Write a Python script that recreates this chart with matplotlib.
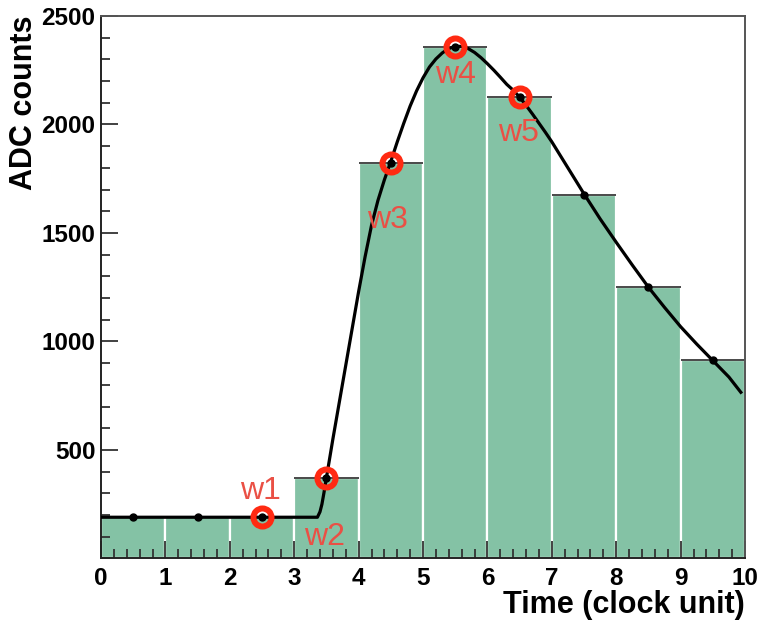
import numpy as np
import matplotlib
matplotlib.use("Agg")
import matplotlib.pyplot as plt
from matplotlib.ticker import MultipleLocator

plt.rcParams["font.family"] = ["Liberation Sans", "DejaVu Sans"]

# histogram bins (time in clock units) and ADC contents
bin_edges = [0, 1, 2, 3, 4, 5, 6, 7, 8, 9, 10]
adc_counts = [190, 190, 190, 372, 1824, 2358, 2126, 1677, 1249, 913]

# fitted pulse shape
fit_t = [0.0, 3.36, 3.40, 3.43, 3.46, 3.50, 3.60, 3.70, 3.80, 3.90, 4.00,
         4.10, 4.20, 4.30, 4.40, 4.50, 4.60, 4.70, 4.80, 4.90, 5.00,
         5.10, 5.20, 5.30, 5.40, 5.50, 5.60, 5.70, 5.80, 5.90, 6.00,
         6.10, 6.20, 6.30, 6.40, 6.50, 6.60, 6.70, 6.80, 6.90, 7.00,
         7.25, 7.50, 7.75, 8.00, 8.25, 8.50, 8.75, 9.00, 9.25, 9.50,
         9.75, 9.95]
fit_adc = [190, 190, 215, 250, 300, 372, 550, 720, 890, 1060, 1230,
           1390, 1535, 1650, 1745, 1830, 1920, 2005, 2085, 2155, 2215,
           2265, 2302, 2330, 2350, 2360, 2360, 2350, 2332, 2308, 2280,
           2250, 2218, 2185, 2158, 2126, 2088, 2048, 2006, 1964, 1920,
           1800, 1680, 1565, 1457, 1352, 1250, 1157, 1068, 988, 912,
           836, 760]

# sampled windows w1..w5 (bin index)
window_bins = [2, 3, 4, 5, 6]
window_names = ["w1", "w2", "w3", "w4", "w5"]
# label anchor offsets in data units
label_dx = [-0.02, -0.03, -0.05, 0.0, -0.02]
label_dy = [120, -273, -264, -130, -165]

GREEN = "#84c2a5"
RED = "#ff2a12"
LABEL_RED = "#ea5045"

fig = plt.figure(figsize=(7.59, 6.27), dpi=100)
ax = fig.add_axes([0.1331, 0.1093, 0.8485, 0.8652])

edges = np.array(bin_edges, dtype=float)
centers = 0.5 * (edges[:-1] + edges[1:])
widths = np.diff(edges)
ax.bar(edges[:-1], adc_counts, width=widths, align="edge", color=GREEN,
       edgecolor="white", linewidth=1.6, zorder=1)
ax.hlines(adc_counts, edges[:-1], edges[1:], color="#3a3a3a", linewidth=1.3, zorder=2)

ax.plot(fit_t, fit_adc, color="black", linewidth=2.3, zorder=3,
        solid_capstyle="butt")

win_x = [centers[i] for i in window_bins]
win_y = [adc_counts[i] for i in window_bins]
ax.plot(win_x, win_y, linestyle="none", marker="o", markersize=13,
        markerfacecolor="none", markeredgecolor=RED, markeredgewidth=4.3, zorder=4)
ax.plot(centers, adc_counts, linestyle="none", marker="o", markersize=5,
        color="black", zorder=5)

for name, x, y, dx, dy in zip(window_names, win_x, win_y, label_dx, label_dy):
    ax.text(x + dx, y + dy, name, color=LABEL_RED, fontsize=23,
            ha="center", va="center", zorder=6)

ax.set_xlim(0, 10)
ax.set_ylim(0, 2500)
ax.set_xticks(range(0, 11))
ax.set_yticks([500, 1000, 1500, 2000, 2500])
ax.xaxis.set_minor_locator(MultipleLocator(0.2))
ax.yaxis.set_minor_locator(MultipleLocator(100))
ax.tick_params(which="both", direction="in", top=False, right=False,
               width=1.3, color="#333333")
ax.tick_params(which="major", length=12, labelsize=17.5)
ax.tick_params(which="minor", length=6.5)
ax.tick_params(axis="y", which="major", pad=4)
ax.tick_params(axis="x", which="major", pad=6)
for lab in ax.get_xticklabels() + ax.get_yticklabels():
    lab.set_fontweight("bold")

for side in ["left", "bottom"]:
    ax.spines[side].set_color("#222222")
    ax.spines[side].set_linewidth(1.4)
for side in ["top", "right"]:
    ax.spines[side].set_color("#555555")
    ax.spines[side].set_linewidth(1.4)

ax.set_xlabel("Time (clock unit)", fontsize=22, fontweight="bold", loc="right",
              labelpad=0)
ax.set_ylabel("ADC counts", fontsize=22, fontweight="bold", loc="top",
              labelpad=2)

fig.savefig("out.png", dpi=100)
